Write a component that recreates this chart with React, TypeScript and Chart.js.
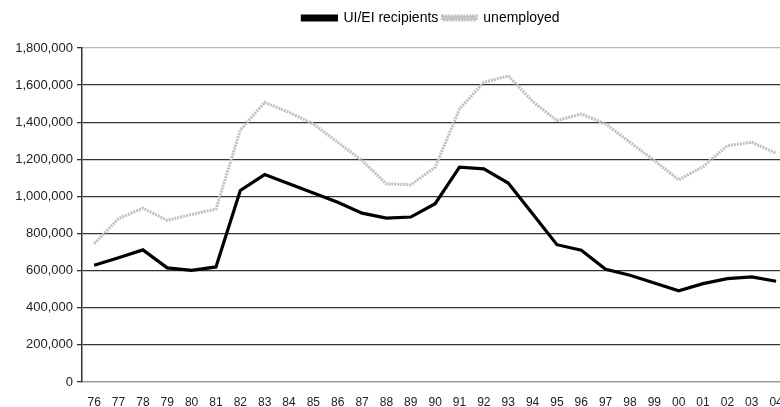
import React, { useEffect, useRef } from 'react';
import { Chart, registerables } from 'chart.js';

Chart.register(...registerables);

const years = ['76', '77', '78', '79', '80', '81', '82', '83', '84', '85', '86', '87', '88', '89', '90', '91', '92', '93', '94', '95', '96', '97', '98', '99', '00', '01', '02', '03', '04'];

const uiEiRecipients = [629000, 670000, 712000, 615000, 602000, 620000, 1032000, 1118000, 1068000, 1018000, 969000, 910000, 883000, 889000, 961000, 1158000, 1149000, 1072000, 907000, 740000, 710000, 607000, 575000, 534000, 491000, 530000, 557000, 566000, 543000];

const unemployed = [746000, 880000, 937000, 871000, 903000, 932000, 1358000, 1507000, 1453000, 1391000, 1292000, 1193000, 1068000, 1063000, 1157000, 1471000, 1615000, 1650000, 1512000, 1409000, 1444000, 1391000, 1292000, 1193000, 1090000, 1161000, 1274000, 1292000, 1233000];

const yMin = 0;
const yMax = 1800000;
const yStep = 200000;

const legendSpacer = {
  id: 'legendSpacer',
  beforeLayout(chart: any) {
    const lg = chart.legend;
    if (lg && !lg._patched) {
      const fit = lg.fit;
      lg.fit = function () {
        fit.call(this);
        this.height += 13;
      };
      lg._patched = true;
    }
  },
};

export default function App() {
  const ref = useRef<HTMLCanvasElement | null>(null);

  useEffect(() => {
    if (!ref.current) return;
    const chart = new Chart(ref.current, {
      type: 'line',
      data: {
        datasets: [
          {
            label: 'UI/EI recipients',
            data: uiEiRecipients.map((v, i) => ({ x: i, y: v })),
            borderColor: '#000000',
            backgroundColor: '#000000',
            borderWidth: 3.2,
            pointRadius: 0,
            tension: 0,
          },
          {
            label: 'unemployed',
            data: unemployed.map((v, i) => ({ x: i, y: v })),
            borderColor: '#bfbfbf',
            backgroundColor: '#cccccc',
            borderWidth: 3,
            borderDash: [2, 1],
            pointRadius: 0,
            tension: 0,
          },
        ],
      },
      options: {
        responsive: false,
        animation: false,
        layout: { padding: { top: 7, left: 0, right: 0, bottom: 0 } },
        plugins: {
          legend: {
            display: true,
            position: 'top',
            fullSize: false,
            labels: {
              boxWidth: 34,
              boxHeight: 4,
              padding: 4,
              color: '#000',
              font: { family: '"Liberation Sans", Arial, sans-serif', size: 14 },
            },
          },
          tooltip: { enabled: false },
        },
        scales: {
          x: {
            type: 'linear',
            min: -0.5,
            max: 28.16,
            afterFit(scale: any) {
              scale.height = 25;
              scale.paddingLeft = 0;
              scale.paddingRight = 0;
            },
            ticks: {
              stepSize: 1,
              includeBounds: false,
              autoSkip: false,
              maxRotation: 0,
              minRotation: 0,
              padding: 5,
              color: '#222',
              font: { family: '"Liberation Sans", Arial, sans-serif', size: 12 },
              callback: (v: any) => (Number.isInteger(v) && years[v] !== undefined ? years[v] : ''),
            },
            grid: { display: false },
            border: { display: true, color: '#9a9a9a', width: 1.5 },
          },
          y: {
            min: yMin,
            max: yMax,
            afterFit(scale: any) {
              scale.width = 82;
              scale.paddingTop = 0;
              scale.paddingBottom = 0;
            },
            ticks: {
              stepSize: yStep,
              padding: 4,
              color: '#222',
              font: { family: '"Liberation Sans", Arial, sans-serif', size: 13 },
              callback: (v: any) => Number(v).toLocaleString('en-US'),
            },
            grid: {
              color: (ctx: any) => (ctx.tick && ctx.tick.value === yMax ? '#b8b8b8' : ctx.tick && ctx.tick.value === 0 ? 'rgba(0,0,0,0)' : '#333333'),
              lineWidth: 1.3,
              tickLength: 5,
              tickColor: '#333333',
              tickWidth: 1.3,
            },
            border: { display: true, color: '#333333', width: 1.5 },
          },
        },
      },
      plugins: [legendSpacer],
    } as any);
    return () => chart.destroy();
  }, []);

  return (
    <div style={{ position: 'fixed', left: 0, top: 0, width: 780, height: 407, overflow: 'hidden', background: '#fff' }}>
      <canvas ref={ref} width={780} height={407} />
    </div>
  );
}
